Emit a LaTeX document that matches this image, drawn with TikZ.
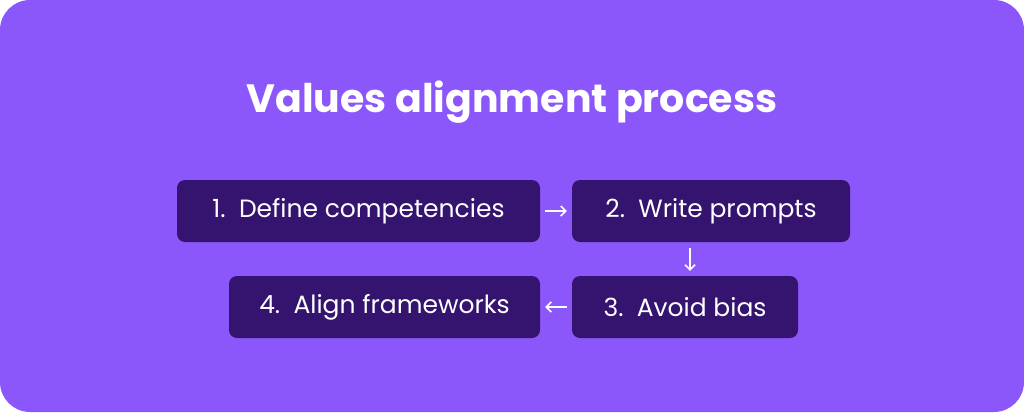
\documentclass[tikz,border=0pt]{standalone}
\usepackage{fontspec}
\setmainfont{Poppins}
\usetikzlibrary{positioning,arrows.meta}
\definecolor{bgviolet}{HTML}{8C57FA}
\definecolor{stepviolet}{HTML}{35146F}
\tikzset{
  stepbox/.style={fill=stepviolet, rounded corners=8pt, minimum height=62pt, text=white, font=\fontsize{25}{30}\selectfont, inner sep=0pt},
  flow/.style={white, line width=1.5pt, -{Straight Barb[length=5pt,width=10pt,line width=1.5pt]}}
}
\begin{document}
\begin{tikzpicture}[x=1pt,y=-1pt]
\useasboundingbox (0,0) rectangle (1024,412);
\fill[bgviolet, rounded corners=30pt] (0,0) rectangle (1024,412);
\node (title) at (512,102) [text=white, font=\fontsize{39.5}{46}\selectfont\bfseries] {Values alignment process};

\node (define) at (358.5,211) [stepbox, minimum width=363pt] {1.\ \ Define competencies};
\node (write) at (711,211) [stepbox, minimum width=278pt] {2.\ \ Write prompts};
\node (avoid) at (685,307) [stepbox, minimum width=226pt] {3.\ \ Avoid bias};
\node (align) at (384.5,307) [stepbox, minimum width=311pt] {4.\ \ Align frameworks};

\coordinate (wdown) at ([xshift=5pt,yshift=-6pt]write.south -| avoid.north);
\draw [flow] ([xshift=5pt]define.east) -- ([xshift=-5pt]write.west);
\draw [flow] (wdown) -- ([yshift=5pt]wdown |- avoid.north);
\draw [flow] ([xshift=-5pt]avoid.west) -- ([xshift=5pt]align.east);
\end{tikzpicture}
\end{document}
